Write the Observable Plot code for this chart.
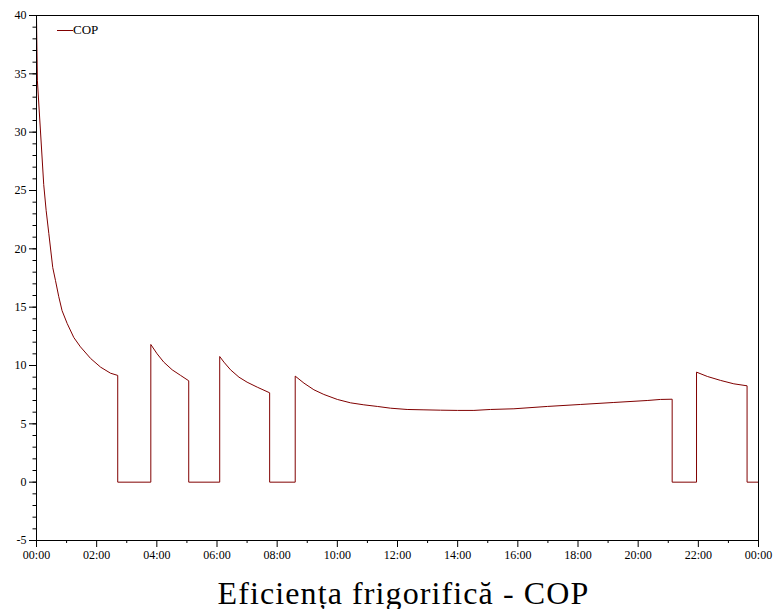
<!DOCTYPE html>
<html>
<head>
<meta charset="utf-8">
<script src="https://cdn.jsdelivr.net/npm/d3@7"></script>
<script src="https://cdn.jsdelivr.net/npm/@observablehq/plot@0.6"></script>
<style>
  body { margin: 0; background: #fff; }
  #wrap { position: relative; width: 774px; }
  #title { font-family: "Liberation Serif", "Times New Roman", serif; font-size: 32px; line-height: 32px; letter-spacing: 1.1px;
           margin-top: 9px; width: 774px; padding-left: 33px; box-sizing: border-box; text-align: center; color: #000; }
  #legend { position: absolute; left: 57px; top: 22px; font: 13px/16px "Liberation Serif", serif; color: #000;
            display: flex; align-items: center; }
  #legend .sw { display: inline-block; width: 16px; height: 0; border-top: 1px solid #800000; }
</style>
</head>
<body>
<div id="wrap">
  <div id="chart"></div>
  <div id="legend"><span class="sw"></span><span>COP</span></div>
  <div id="title">Eficiența frigorifică - COP</div>
</div>
<script>
// time of day in hours
const hours = [
  0, 0.01, 0.03, 0.16, 0.24, 0.32, 0.41, 0.54, 0.63, 0.74, 0.85, 1.02, 1.24, 1.46, 1.80, 2.13, 2.46, 2.70,
  2.70, 3.80,
  3.80, 4.01, 4.23, 4.51, 4.79, 5.06,
  5.06, 6.09,
  6.09, 6.23, 6.45, 6.73, 7.00, 7.34, 7.75,
  7.75, 8.60,
  8.60, 8.89, 9.22, 9.55, 10.00, 10.44, 10.88, 11.33, 11.77, 12.32, 12.88, 13.43, 13.99, 14.54, 15.09, 15.87, 16.98, 18.09, 19.19, 20.30, 20.74, 21.13,
  21.13, 21.94,
  21.94, 22.30, 22.74, 23.18, 23.62,
  23.62, 24.00
];
const cop = [
  40, 37.9, 34.4, 28.9, 25.5, 23.3, 21.3, 18.4, 17.3, 15.9, 14.7, 13.6, 12.4, 11.6, 10.6, 9.86, 9.34, 9.15,
  0, 0,
  11.8, 11.0, 10.29, 9.63, 9.15, 8.69,
  0, 0,
  10.77, 10.29, 9.63, 9.0, 8.57, 8.14, 7.66,
  0, 0,
  9.09, 8.49, 7.92, 7.52, 7.09, 6.80, 6.63, 6.49, 6.34, 6.23, 6.20, 6.17, 6.15, 6.15, 6.23, 6.29, 6.49, 6.66, 6.83, 7.0, 7.09, 7.11,
  0, 0,
  9.43, 9.06, 8.72, 8.43, 8.26,
  0, 0
];
const xMajor = [0, 2, 4, 6, 8, 10, 12, 14, 16, 18, 20, 22, 24];
const xMinor = [1, 3, 5, 7, 9, 11, 13, 15, 17, 19, 21, 23];
const yMajor = [-5, 0, 5, 10, 15, 20, 25, 30, 35, 40];
const yMinor = d3.range(-5, 41, 1);

const data = hours.map((h, i) => ({h, v: cop[i]}));
const fmtTime = h => String(h % 24).padStart(2, "0") + ":00";

const chart = Plot.plot({
  width: 774,
  height: 568,
  marginTop: 15,
  marginRight: 16,
  marginBottom: 28,
  marginLeft: 36,
  style: { fontFamily: "'Liberation Serif', 'Times New Roman', serif", fontSize: "12px", background: "#fff", color: "#000" },
  x: { domain: [0, 24], label: null },
  y: { domain: [-5, 40], label: null },
  marks: [
    Plot.line(data, { x: "h", y: "v", stroke: "#800000", strokeWidth: 1 }),
    Plot.frame({ stroke: "#000" }),
    Plot.axisX({ ticks: xMinor, tickSize: 3, tickFormat: () => "", label: null }),
    Plot.axisX({ ticks: xMajor, tickSize: 7, tickPadding: 3, tickFormat: fmtTime, label: null }),
    Plot.axisY({ ticks: yMinor, tickSize: 3.5, tickFormat: () => "", label: null }),
    Plot.axisY({ ticks: yMajor, tickSize: 7, tickPadding: 3, tickFormat: d => String(d), label: null })
  ]
});
document.getElementById("chart").appendChild(chart);
</script>
</body>
</html>
